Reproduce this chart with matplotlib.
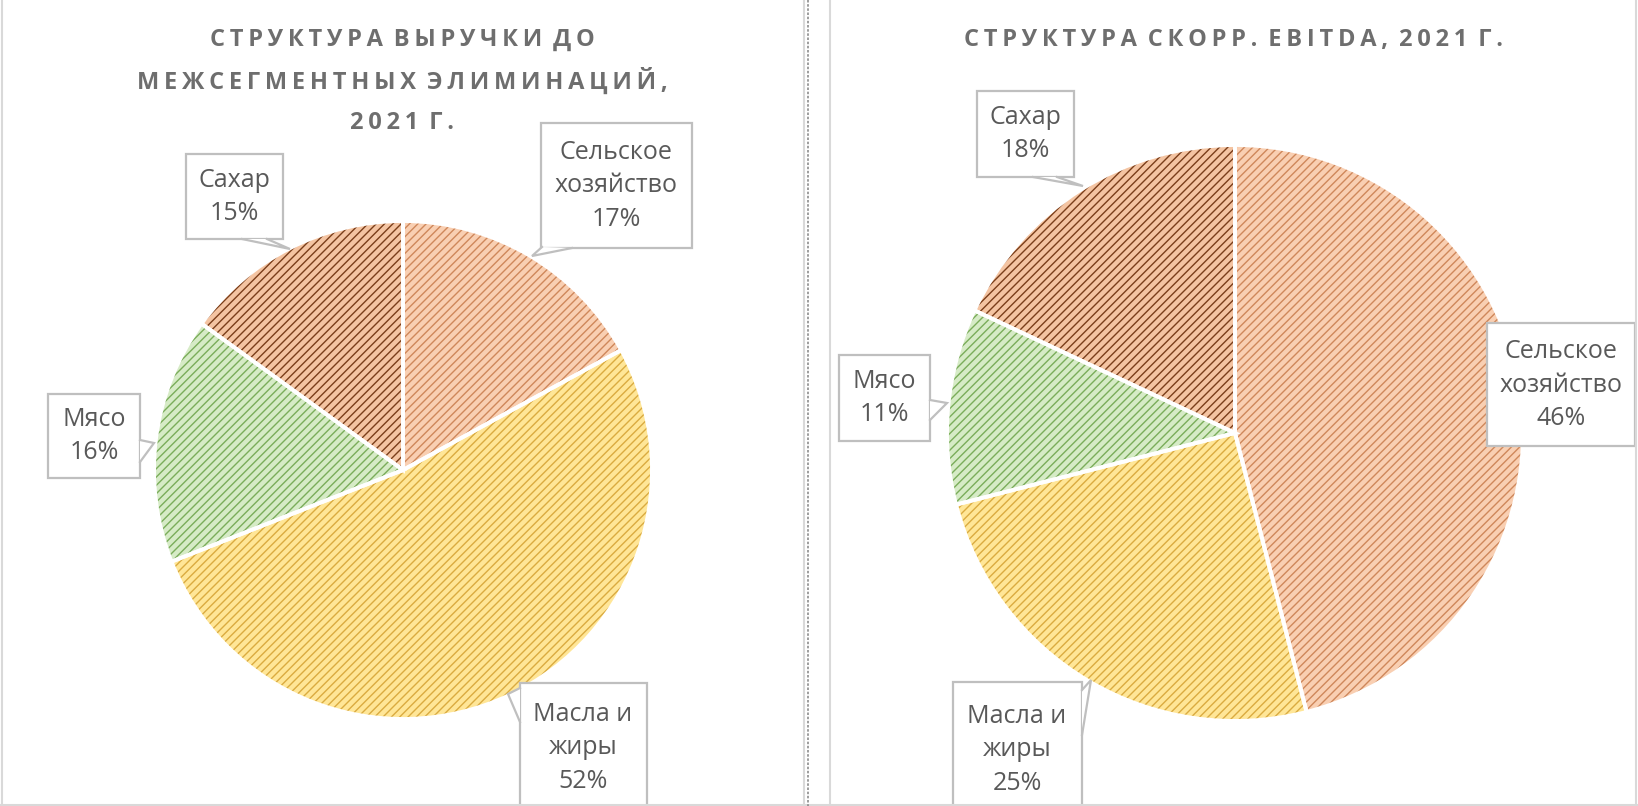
import numpy as np
import matplotlib.pyplot as plt
from matplotlib.patches import Rectangle, Polygon

plt.rcParams['font.family'] = ['Open Sans', 'DejaVu Sans']
plt.rcParams['hatch.linewidth'] = 1.0

W, H = 1638, 806

segments = ['Сельское\nхозяйство', 'Масла и\nжиры', 'Мясо', 'Сахар']
revenue_share = [17, 52, 16, 15]
ebitda_share = [46, 25, 11, 18]
title_left = ['СТРУКТУРА ВЫРУЧКИ ДО', 'МЕЖСЕГМЕНТНЫХ ЭЛИМИНАЦИЙ,', '2021 Г.']
title_right = ['СТРУКТУРА СКОРР. EBITDA, 2021 Г.']

face_colors = ['#F9CFB2', '#FFE697', '#D6EBC6', '#F4C4A2']
hatch_colors = ['#CF875A', '#DAAB40', '#7AAD5A', '#7A3E1A']
text_color = '#595959'
box_color = '#BFBFBF'

# label boxes in image pixels: (x0, y0, x1, y1), text centre, callout (base1, base2, tip)
labels_left = [
    ((541, 123, 692, 248), (616, 186), ((542, 247), (572, 248), (532, 256))),
    ((520, 683, 647, 830), (583, 748), ((520, 688), (520, 722), (508, 694))),
    ((48, 394, 140, 478), (94, 436), ((140, 440), (140, 462), (154, 443))),
    ((186, 154, 283, 239), (234, 197), ((242, 239), (267, 239), (290, 249))),
]
labels_right = [
    ((1487, 323, 1635, 446), (1561, 385), None),
    ((953, 682, 1082, 830), (1017, 750), ((1082, 690), (1082, 735), (1091, 680))),
    ((839, 355, 930, 441), (884, 398), ((930, 400), (930, 420), (947, 403))),
    ((977, 91, 1074, 177), (1025, 134), ((1033, 177), (1057, 177), (1083, 186))),
]


def Y(y):
    return H - y


def spaced(s):
    return ' \u2009'.join('\u2009'.join(w) for w in s.split(' '))


def draw_pie(ax, values, center, radius, labels, title_lines, title_x, title_y0):
    wedges, _ = ax.pie(values, startangle=90, counterclock=False,
                       center=(center[0], Y(center[1])), radius=radius,
                       colors=face_colors, hatch='////',
                       wedgeprops=dict(linewidth=0))
    for w, hc in zip(wedges, hatch_colors):
        w.set_edgecolor(hc)
        w.set_linewidth(0)
    # white separators
    ax.pie(values, startangle=90, counterclock=False,
           center=(center[0], Y(center[1])), radius=radius,
           colors=['none'] * len(values),
           wedgeprops=dict(linewidth=2.8, edgecolor='white', fill=False))

    total = sum(values)
    for name, v, (box, tc, ptr) in zip(segments, values, labels):
        x0, y0, x1, y1 = box
        ax.add_patch(Rectangle((x0, Y(y1)), x1 - x0, y1 - y0, facecolor='white',
                               edgecolor=box_color, linewidth=1.6, zorder=4))
        if ptr is not None:
            b1, b2, tip = ptr
            pts = [(b1[0], Y(b1[1])), (tip[0], Y(tip[1])), (b2[0], Y(b2[1]))]
            ax.add_patch(Polygon(pts, closed=True, facecolor='white',
                                 edgecolor='none', zorder=5))
            ax.plot([p[0] for p in pts], [p[1] for p in pts], color=box_color,
                    lw=1.6, zorder=6, solid_joinstyle='miter')
        pct = round(100 * v / total)
        ax.text(tc[0], Y(tc[1]), '%s\n%d%%' % (name, pct), ha='center', va='center',
                fontsize=18, color=text_color, linespacing=1.45, zorder=7)

    for i, line in enumerate(title_lines):
        ax.text(title_x, Y(title_y0 + 41.5 * i), spaced(line), ha='center', va='center',
                fontsize=17, fontweight='bold', color='#6E6E6E', zorder=7)


fig = plt.figure(figsize=(W / 100, H / 100), dpi=100)
ax = fig.add_axes([0, 0, 1, 1])

draw_pie(ax, revenue_share, (403, 470), 249, labels_left, title_left, 402, 40)
draw_pie(ax, ebitda_share, (1235, 433), 288, labels_right, title_right, 1233, 40)

# panel borders and separator
border = '#D9D9D9'
ax.plot([2, 2], [Y(0), Y(805)], color=border, lw=1.5, zorder=8)
ax.plot([804, 804], [Y(0), Y(805)], color=border, lw=1.5, zorder=8)
ax.plot([830, 830], [Y(0), Y(805)], color=border, lw=1.5, zorder=8)
ax.plot([1636, 1636], [Y(0), Y(805)], color=border, lw=1.5, zorder=8)
ax.plot([0, W], [Y(805), Y(805)], color=border, lw=1.5, zorder=8)
ax.plot([808, 808], [Y(0), Y(806)], color='#8C8C8C', lw=1.2, ls=(0, (1.5, 1)), zorder=8)

ax.set_xlim(0, W)
ax.set_ylim(0, H)
ax.set_aspect('auto')
ax.axis('off')

fig.savefig('out.png', dpi=100)
